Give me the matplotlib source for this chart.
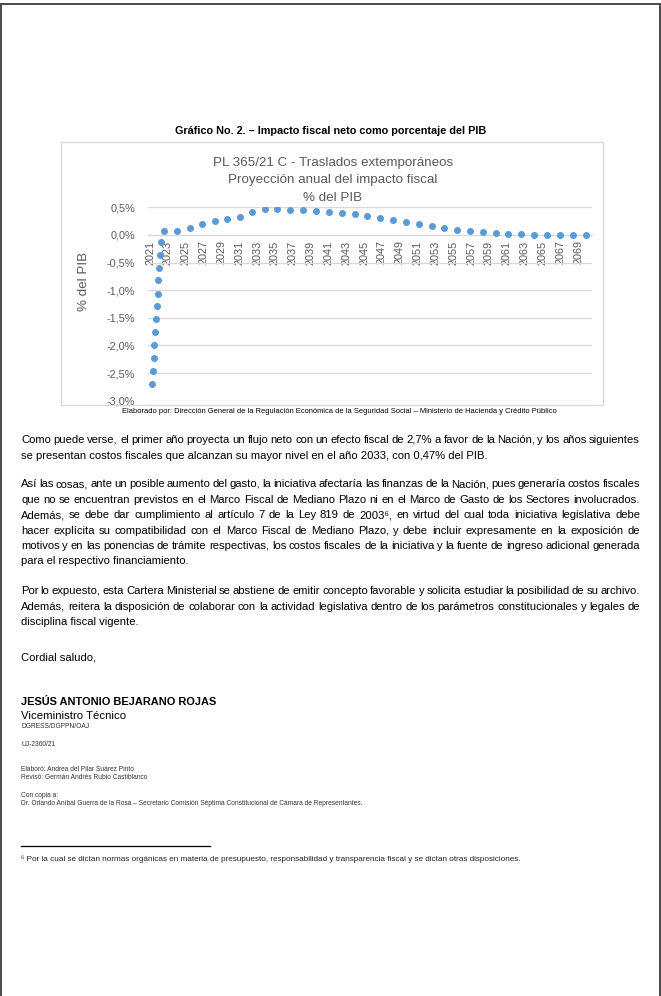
import matplotlib
matplotlib.use('Agg')
import matplotlib.pyplot as plt
from matplotlib.patches import Rectangle
from matplotlib.ticker import FuncFormatter

W, H = 661, 996

# Datos (x en anios, y en % del PIB)
anio_x = [2021.22, 2021.31, 2021.41, 2021.48, 2021.59, 2021.67, 2021.79,
          2021.86, 2021.93, 2022.04, 2022.12, 2022.20,
          2022.6, 2024.0, 2025.5, 2026.8, 2028.3, 2029.6, 2031.1, 2032.4,
          2033.9, 2035.2, 2036.7, 2038.2, 2039.6, 2041.1, 2042.5, 2044.0,
          2045.3, 2046.8, 2048.3, 2049.7, 2051.2, 2052.6, 2054.0, 2055.4,
          2056.9, 2058.3, 2059.8, 2061.1, 2062.6, 2064.1, 2065.5, 2067.0,
          2068.4, 2069.9]
impacto = [-2.69, -2.46, -2.22, -1.99, -1.76, -1.52, -1.29, -1.06, -0.82,
           -0.59, -0.36, -0.12,
           0.065, 0.08, 0.13, 0.20, 0.25, 0.29, 0.33, 0.41, 0.47, 0.47,
           0.46, 0.45, 0.44, 0.42, 0.40, 0.37, 0.345, 0.31, 0.27, 0.235,
           0.20, 0.16, 0.13, 0.096, 0.072, 0.047, 0.03, 0.018, 0.01, 0.005,
           0.003, 0.003, 0.003, 0.003]
ticks_anio = list(range(2021, 2070, 2))
ticks_pct = [0.5, 0.0, -0.5, -1.0, -1.5, -2.0, -2.5, -3.0]

titulo_chart = ['PL 365/21 C - Traslados extemporáneos',
                'Proyección anual del impacto fiscal',
                '% del PIB']

parrafo1 = ['Como puede verse, el primer año proyecta un flujo neto con un efecto fiscal de 2,7% a favor de la Nación, y los años siguientes',
            'se presentan costos fiscales que alcanzan su mayor nivel en el año 2033, con 0,47% del PIB.']
parrafo2 = ['Así las cosas, ante un posible aumento del gasto, la iniciativa afectaría las finanzas de la Nación, pues generaría costos fiscales',
            'que no se encuentran previstos en el Marco Fiscal de Mediano Plazo ni en el Marco de Gasto de los Sectores involucrados.',
            'Además, se debe dar cumplimiento al artículo 7 de la Ley 819 de 2003⁶, en virtud del cual toda iniciativa legislativa debe',
            'hacer explícita su compatibilidad con el Marco Fiscal de Mediano Plazo, y debe incluir expresamente en la exposición de',
            'motivos y en las ponencias de trámite respectivas, los costos fiscales de la iniciativa y la fuente de ingreso adicional generada',
            'para el respectivo financiamiento.']
parrafo3 = ['Por lo expuesto, esta Cartera Ministerial se abstiene de emitir concepto favorable y solicita estudiar la posibilidad de su archivo.',
            'Además, reitera la disposición de colaborar con la actividad legislativa dentro de los parámetros constitucionales y legales de',
            'disciplina fiscal vigente.']

NARROW = ['Liberation Sans Narrow', 'Liberation Sans', 'DejaVu Sans']
ARIAL = ['Liberation Sans', 'DejaVu Sans']
GRIS = '#595959'
AZUL = '#5B9BD5'


def fx(x):
    return x / W


def fy(y):
    return 1 - y / H


fig = plt.figure(figsize=(W / 100, H / 100), dpi=100)
fig.patch.set_facecolor('white')
rend = fig.canvas.get_renderer()

# borde de la pagina
fig.add_artist(Rectangle((fx(0.8), -0.1), fx(659.4), fy(4) + 0.1,
                         transform=fig.transFigure, fill=False,
                         ec='#3c3c3c', lw=1.3))

# titulo del grafico (documento)
fig.text(fx(331), fy(131), 'Gráfico No. 2. – Impacto fiscal neto como porcentaje del PIB',
         ha='center', va='center', fontsize=7.8, fontweight='bold', family=NARROW)

# recuadro del grafico
fig.add_artist(Rectangle((fx(61), fy(405)), fx(602.5 - 61), (405 - 141.7) / H,
                         transform=fig.transFigure, fill=False,
                         ec='#d9d9d9', lw=1.0))

for i, t in enumerate(titulo_chart):
    fig.text(fx(333), fy(163 + i * 17.5), t, ha='center', va='center',
             fontsize=9.6, color=GRIS, family=ARIAL)

ax = fig.add_axes([fx(147.7), fy(400.7), fx(592 - 147.7), (400.7 - 207.3) / H])
ax.spines['bottom'].set_position(('data', 0))
ax.plot(anio_x, impacto, linestyle='none', marker='o', markersize=4.0,
        color=AZUL, zorder=3)
ax.set_xlim(2020.74, 2070.57)
ax.set_ylim(-3.0, 0.5)
ax.set_yticks(ticks_pct)
ax.yaxis.set_major_formatter(FuncFormatter(lambda v, p: f'{v:.1f}%'.replace('.', ',')))
ax.set_xticks(ticks_anio)
ax.set_xticklabels([str(a) for a in ticks_anio])
ax.grid(axis='y', color='#d9d9d9', lw=1.0)
ax.set_axisbelow(True)
for s in ['top', 'right', 'left']:
    ax.spines[s].set_visible(False)
ax.spines['bottom'].set_color('#d9d9d9')
ax.tick_params(axis='both', length=0, colors=GRIS, labelsize=7.8)
ax.tick_params(axis='x', pad=4, labelrotation=90)
ax.tick_params(axis='y', pad=9)
for lab in ax.get_xticklabels() + ax.get_yticklabels():
    lab.set_family(ARIAL)

fig.text(fx(84), fy(281), '% del PIB', rotation=90, ha='center', va='center',
         fontsize=9.6, color=GRIS, family=ARIAL)

fig.text(fx(339), fy(411), 'Elaborado por: Dirección General de la Regulación Económica de la Seguridad Social – Ministerio de Hacienda y Crédito Público',
         ha='center', va='center', fontsize=5.4, family=NARROW)

X0, X1 = 21, 640
TAM = 8.1


def linea(txt, y, size=TAM, justificar=True, **kw):
    if not justificar:
        fig.text(fx(X0), fy(y), txt, ha='left', va='center', fontsize=size,
                 family=NARROW, **kw)
        return
    palabras = txt.split()
    objs = [fig.text(0, fy(y), p, ha='left', va='center', fontsize=size,
                     family=NARROW, **kw) for p in palabras]
    anchos = [o.get_window_extent(renderer=rend).width for o in objs]
    hueco = (X1 - X0 - sum(anchos)) / (len(palabras) - 1)
    x = X0
    for o, a in zip(objs, anchos):
        o.set_x(fx(x))
        x += a + hueco


def parrafo(lineas, y0, paso=15.5):
    for i, t in enumerate(lineas):
        linea(t, y0 + i * paso, justificar=(i < len(lineas) - 1))


parrafo(parrafo1, 440)
parrafo(parrafo2, 484)
parrafo(parrafo3, 591)
linea('Cordial saludo,', 657, justificar=False)

fig.text(fx(X0), fy(702), 'JESÚS ANTONIO BEJARANO ROJAS', ha='left', va='center',
         fontsize=7.9, fontweight='bold', family=NARROW)
fig.text(fx(X0), fy(716), 'Viceministro Técnico', ha='left', va='center',
         fontsize=8.2, family=NARROW)
pequenos = [('DGRESS/DGPPN/OAJ', 727), ('UJ-2360/21', 745),
            ('Elaboró: Andrea del Pilar Suárez Pinto', 769),
            ('Revisó: Germán Andrés Rubio Castiblanco', 777),
            ('Con copia a:', 795),
            ('Dr. Orlando Aníbal Guerra de la Rosa – Secretario Comisión Séptima Constitucional de Cámara de Representantes.', 803)]
for t, y in pequenos:
    fig.text(fx(X0), fy(y), t, ha='left', va='center', fontsize=4.8,
             color='#333333', family=NARROW)

fig.add_artist(plt.Line2D([fx(21), fx(210)], [fy(846), fy(846)],
                          transform=fig.transFigure, color='black', lw=0.9))
fig.text(fx(X0), fy(859), '⁶ Por la cual se dictan normas orgánicas en materia de presupuesto, responsabilidad y transparencia fiscal y se dictan otras disposiciones.',
         ha='left', va='center', fontsize=5.85, color='#222222', family=NARROW)

fig.savefig('out.png', dpi=100, facecolor='white')
